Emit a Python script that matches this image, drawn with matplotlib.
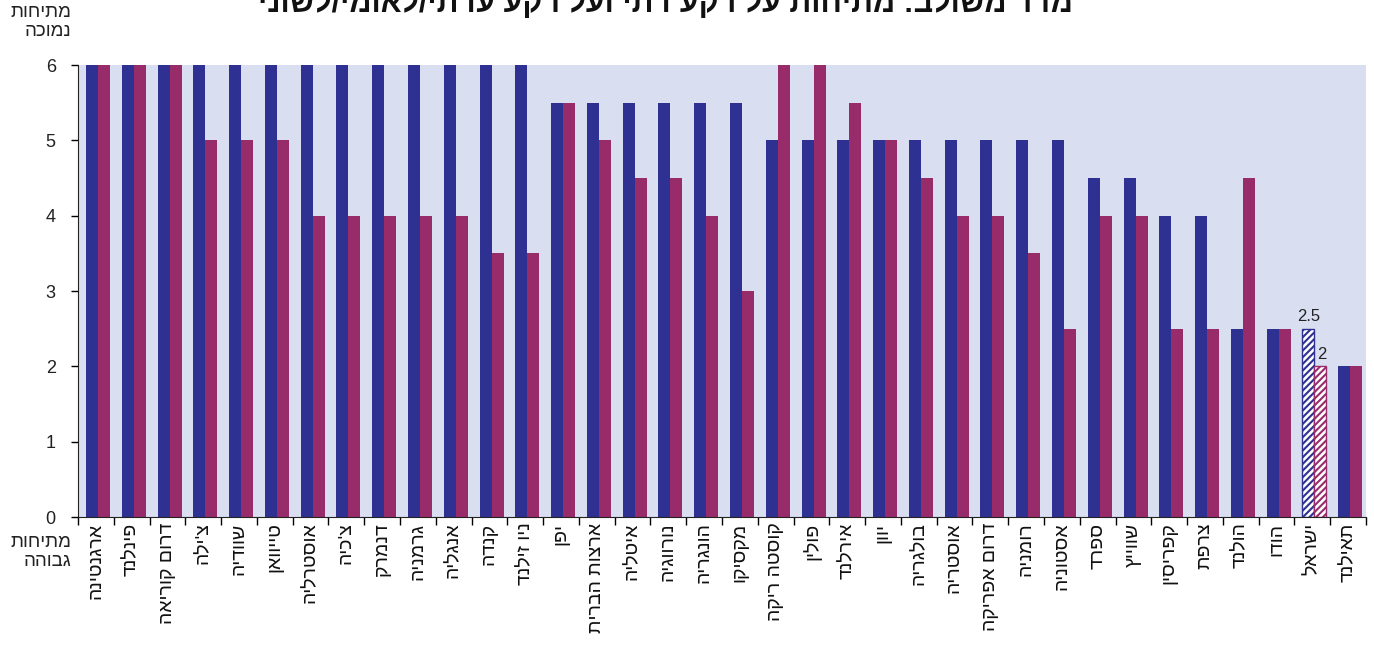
import matplotlib
matplotlib.use('Agg')
import matplotlib.pyplot as plt
import numpy as np

plt.rcParams['font.family'] = ['Liberation Sans', 'DejaVu Sans']
plt.rcParams['hatch.linewidth'] = 1.5

# data
countries = ["ארגנטינה", "פינלנד", "דרום קוריאה", "צ'ילה", "שוודיה", "טייוואן",
             "אוסטרליה", "צ'כיה", "דנמרק", "גרמניה", "אנגליה", "קנדה", "ניו זילנד",
             "יפן", "ארצות הברית", "איטליה", "נורווגיה", "הונגריה", "מקסיקו",
             "קוסטה ריקה", "פולין", "אירלנד", "יוון", "בולגריה", "אוסטריה",
             "דרום אפריקה", "רומניה", "אסטוניה", "ספרד", "שווייץ", "קפריסין",
             "צרפת", "הולנד", "הודו", "ישראל", "תאילנד"]
religious = [6, 6, 6, 6, 6, 6, 6, 6, 6, 6, 6, 6, 6, 5.5, 5.5, 5.5, 5.5, 5.5, 5.5,
             5, 5, 5, 5, 5, 5, 5, 5, 5, 4.5, 4.5, 4, 4, 2.5, 2.5, 2.5, 2]
ethnic = [6, 6, 6, 5, 5, 5, 4, 4, 4, 4, 4, 3.5, 3.5, 5.5, 5, 4.5, 4.5, 4, 3,
          6, 6, 5.5, 5, 4.5, 4, 4, 3.5, 2.5, 4, 4, 2.5, 2.5, 4.5, 2.5, 2, 2]
highlight = "ישראל"
yticks = [0, 1, 2, 3, 4, 5, 6]

title = "מדד משולב: מתיחות על רקע דתי ועל רקע עדתי/לאומי/לשוני"
top_note = "מתיחות\nנמוכה"
bottom_note = "מתיחות\nגבוהה"


def heb(s):
    # matplotlib has no bidi: flip each line by hand
    return "\n".join(line[::-1] for line in s.split("\n"))


BLUE = '#2E3192'
PURPLE = '#982B6A'
BG = '#D9DFF0'

fig = plt.figure(figsize=(13.74, 6.45), dpi=100)
ax = fig.add_axes([78/1374, 1-517/645, 1288/1374, 452/645])
ax.set_facecolor(BG)

x = np.arange(len(countries))
w = 0.335
off = 0.06
hi = countries.index(highlight)

b1 = ax.bar(x - w/2 + off, religious, w, color=BLUE, linewidth=0, zorder=2)
b2 = ax.bar(x + w/2 + off, ethnic, w, color=PURPLE, linewidth=0, zorder=2)

for bars, col in ((b1, BLUE), (b2, PURPLE)):
    p = bars[hi]
    p.set_facecolor('white')
    p.set_edgecolor(col)
    p.set_hatch('/////')
    p.set_linewidth(1.0)

ax.text(x[hi] - w/2 + off, religious[hi] + 0.06, str(religious[hi]), ha='center', va='bottom',
        fontsize=12, color='#222222')
ax.text(x[hi] + w/2 + off + 0.05, ethnic[hi] + 0.06, str(ethnic[hi]), ha='center', va='bottom',
        fontsize=12, color='#222222')

ax.set_xlim(-0.5, len(countries) - 0.5)
ax.set_ylim(0, 6)
ax.set_yticks(yticks)
ax.set_yticklabels([str(v) for v in yticks], fontsize=13, color='#222222')
ax.tick_params(axis='y', length=5, width=1, pad=11)

ax.set_xticks(x)
ax.set_xticklabels([heb(c) for c in countries], rotation=90, fontsize=14,
                   va='top', ha='center', color='#111111')
ax.tick_params(axis='x', which='major', length=0, pad=4)
ax.set_xticks(np.arange(-0.5, len(countries)), minor=True)
ax.tick_params(axis='x', which='minor', length=6, width=1, direction='out')

for s in ('top', 'right'):
    ax.spines[s].set_visible(False)
ax.spines['left'].set_color('#222222')
ax.spines['bottom'].set_color('#222222')

fig.text(665/1374, 1 - 12/645, heb(title), ha='center', va='baseline',
         fontsize=22, fontweight='bold', color='#111111')
fig.text(71/1374, 1 - 4/645, heb(top_note), ha='right', va='top',
         fontsize=13.5, color='#222222', linespacing=1.15)
fig.text(71/1374, 1 - 534/645, heb(bottom_note), ha='right', va='top',
         fontsize=13.5, color='#222222', linespacing=1.15)

fig.savefig('out.png', dpi=100)
